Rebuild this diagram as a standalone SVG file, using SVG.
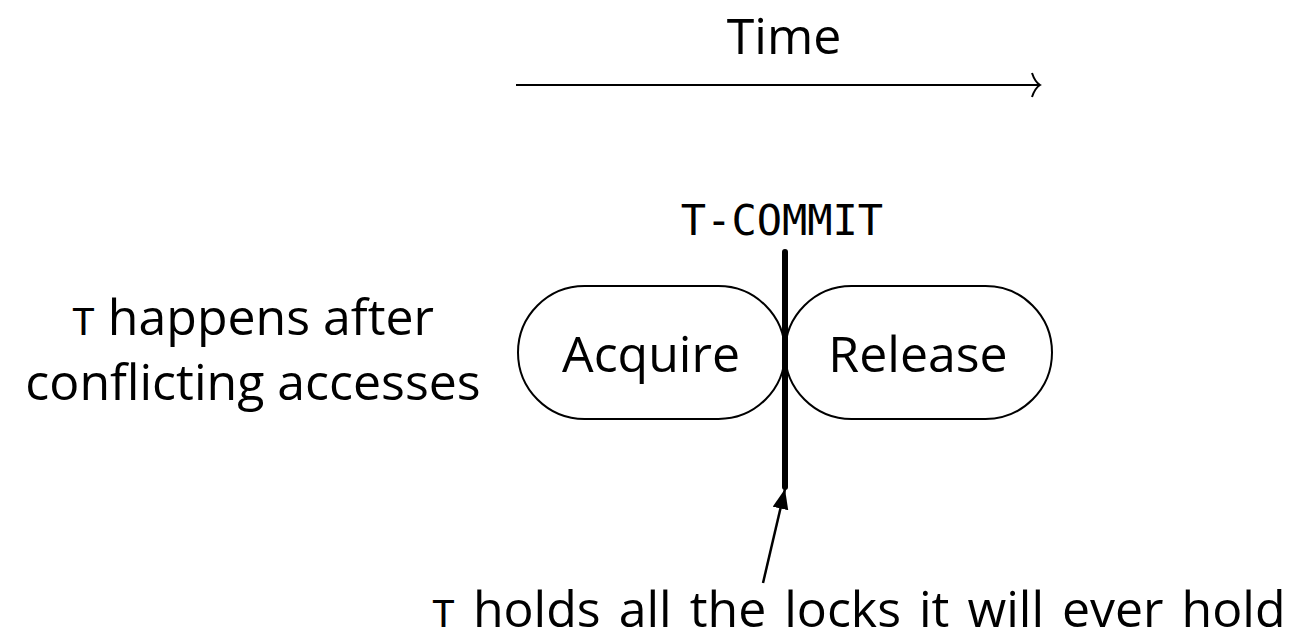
<svg xmlns="http://www.w3.org/2000/svg" width="1303" height="643" viewBox="0 0 1303 643">
<defs>
<marker id="open" markerWidth="14" markerHeight="28" refX="11" refY="14" orient="auto" markerUnits="userSpaceOnUse">
<path d="M3,2 Q6,11 11,14 Q6,17 3,26" fill="none" stroke="#000" stroke-width="2"/>
</marker>
<marker id="tri" markerWidth="22" markerHeight="18" refX="20" refY="8" orient="auto" markerUnits="userSpaceOnUse">
<path d="M0,0 L20,8 L0,16 Z" fill="#000"/>
</marker>
</defs>
<style>
.t{font-family:"Open Sans","Noto Sans",sans-serif;font-size:50px;fill:#000}
.m{font-family:"DejaVu Sans Mono","Liberation Mono",monospace;fill:#000}
.pill{fill:#fff;stroke:#000;stroke-width:2}
</style>
<g id="time">
<text class="t" x="784" y="54" text-anchor="middle">Time</text>
</g>
<g id="acquire">
<rect class="pill" x="518" y="286" width="267" height="133" rx="66.5" ry="66.5"/>
<text class="t" x="651" y="372" text-anchor="middle">Acquire</text>
</g>
<g id="release">
<rect class="pill" x="785" y="286" width="267" height="133" rx="66.5" ry="66.5"/>
<text class="t" x="918" y="372" text-anchor="middle">Release</text>
</g>
<g id="tcommit">
<text class="m" x="782" y="235" font-size="42" text-anchor="middle">T-COMMIT</text>
</g>
<g id="left-label">
<text class="t" x="253" y="335" text-anchor="middle"><tspan class="m" font-size="38">T</tspan> happens after</text>
<text class="t" x="253" y="400" text-anchor="middle">conflicting accesses</text>
</g>
<g id="bottom-label">
<text class="t" x="432" y="627" font-size="50" word-spacing="5"><tspan class="m" font-size="38">T</tspan> holds all the locks it will ever hold</text>
</g>
<g id="connectors">
<line x1="516" y1="85" x2="1040" y2="85" stroke="#000" stroke-width="2" marker-end="url(#open)"/>
<line x1="785" y1="252" x2="785" y2="487" stroke="#000" stroke-width="6" stroke-linecap="round"/>
<line x1="763" y1="583" x2="785" y2="489" stroke="#000" stroke-width="2.5" marker-end="url(#tri)"/>
</g>
</svg>
